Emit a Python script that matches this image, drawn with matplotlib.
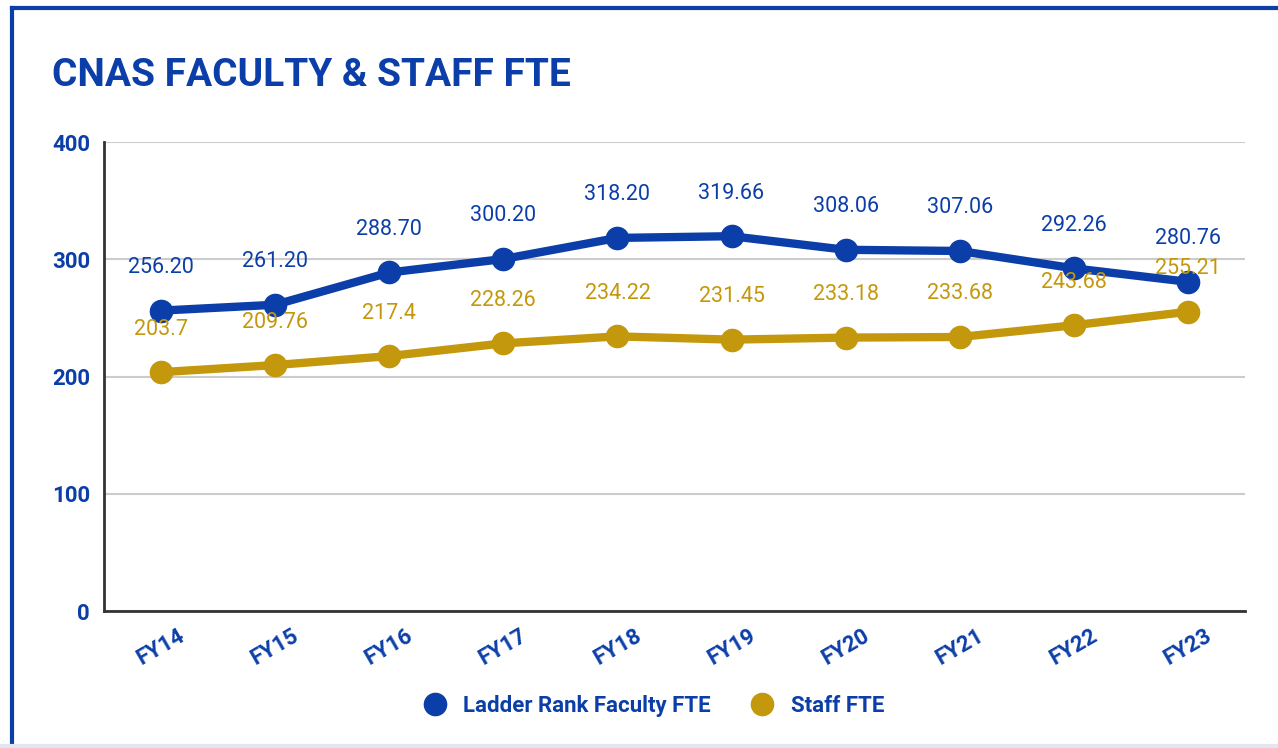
import matplotlib.pyplot as plt
from matplotlib.lines import Line2D

years = ["FY14", "FY15", "FY16", "FY17", "FY18", "FY19", "FY20", "FY21", "FY22", "FY23"]
faculty = [256.20, 261.20, 288.70, 300.20, 318.20, 319.66, 308.06, 307.06, 292.26, 280.76]
staff = [203.7, 209.76, 217.4, 228.26, 234.22, 231.45, 233.18, 233.68, 243.68, 255.21]
faculty_labels = ["256.20", "261.20", "288.70", "300.20", "318.20", "319.66", "308.06", "307.06", "292.26", "280.76"]
staff_labels = ["203.7", "209.76", "217.4", "228.26", "234.22", "231.45", "233.18", "233.68", "243.68", "255.21"]

blue = "#0B3EA8"
gold = "#C4980C"
bold_font = ["Liberation Sans Narrow", "Roboto", "DejaVu Sans"]

fig = plt.figure(figsize=(12.78, 7.48), dpi=100)
W, H = 1278, 748

# outer card border: blue left and top, light grey bottom
fig.lines.append(Line2D([12 / W, 12 / W], [0, 1 - 8 / H], transform=fig.transFigure, color=blue, linewidth=3))
fig.lines.append(Line2D([12 / W, 1], [1 - 8 / H, 1 - 8 / H], transform=fig.transFigure, color=blue, linewidth=3))
fig.lines.append(Line2D([0, 1], [2 / H, 2 / H], transform=fig.transFigure, color="#E4E6EE", linewidth=3))

fig.text(52 / W, 1 - 76 / H, "CNAS FACULTY & STAFF FTE", color=blue, fontsize=28,
         fontweight="bold", family=bold_font, va="center", ha="left")

ax = fig.add_axes([104 / W, 1 - 611 / H, (1245 - 104) / W, (611 - 142) / H])
x = list(range(len(years)))

ax.plot(x, faculty, color=blue, linewidth=6, marker="o", markersize=16,
        label="Ladder Rank Faculty FTE", zorder=3)
ax.plot(x, staff, color=gold, linewidth=6, marker="o", markersize=16,
        label="Staff FTE", zorder=3)

for xi, v, t in zip(x, faculty, faculty_labels):
    ax.annotate(t, (xi, v), xytext=(0, 31), textcoords="offset points", ha="center",
                va="center", color=blue, fontsize=15.5, family=["Roboto", "DejaVu Sans"], zorder=4)
for xi, v, t in zip(x, staff, staff_labels):
    ax.annotate(t, (xi, v), xytext=(0, 31), textcoords="offset points", ha="center",
                va="center", color=gold, fontsize=15.5, family=["Roboto", "DejaVu Sans"], zorder=4)

ax.set_xlim(-0.5, 9.5)
ax.set_ylim(0, 400)
ax.set_yticks([0, 100, 200, 300, 400])
ax.set_xticks(x)
ax.set_xticklabels(years, rotation=30, ha="center")
ax.grid(axis="y", color="#CCCCCC", linewidth=1.5)
ax.set_axisbelow(True)
for s in ["top", "right"]:
    ax.spines[s].set_visible(False)
for s in ["left", "bottom"]:
    ax.spines[s].set_color("#333333")
    ax.spines[s].set_linewidth(2)
ax.tick_params(length=0)
ax.tick_params(axis="y", pad=10)
ax.tick_params(axis="x", pad=10)
for lab in ax.get_yticklabels() + ax.get_xticklabels():
    lab.set_color(blue)
    lab.set_fontweight("bold")
    lab.set_family(bold_font)
    lab.set_fontsize(16)

leg = fig.legend(loc="center", bbox_to_anchor=(655 / W, 1 - 706 / H), ncol=2, frameon=False,
                 handlelength=0.8, handletextpad=0.9, columnspacing=1.9,
                 prop={"family": bold_font, "weight": "bold", "size": 16})
for h in leg.legend_handles:
    h.set_linestyle("none")
    h.set_markersize(16)
for t in leg.get_texts():
    t.set_color(blue)

fig.savefig("out.png", dpi=100)
